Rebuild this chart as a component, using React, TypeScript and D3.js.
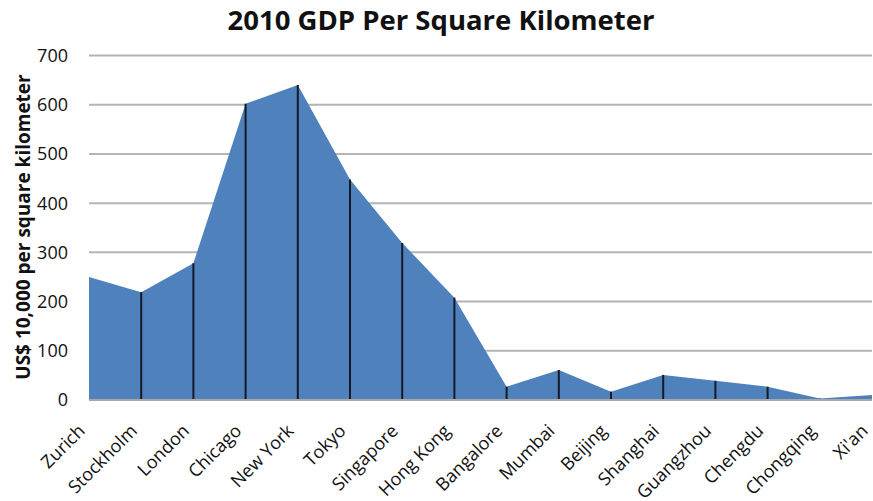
import React from "react";
import * as d3 from "d3";

const cities = [
  "Zurich", "Stockholm", "London", "Chicago", "New York", "Tokyo", "Singapore", "Hong Kong",
  "Bangalore", "Mumbai", "Beijing", "Shanghai", "Guangzhou", "Chengdu", "Chongqing", "Xi'an",
];
const gdpPerKm2 = [250, 219, 278, 602, 640, 448, 319, 208, 27, 61, 17, 51, 39, 27, 3, 10];
const yTicks = [0, 100, 200, 300, 400, 500, 600, 700];

const W = 873;
const H = 501;
const M = { left: 89, right: 872, top: 55.5, bottom: 400 };
const FONT = "'Open Sans', 'Liberation Sans', sans-serif";

export default function App() {
  const x = d3.scalePoint<string>().domain(cities).range([M.left, M.right]);
  const y = d3.scaleLinear().domain([0, 700]).range([M.bottom, M.top]);

  const rows = cities.map((c, i) => ({ c, v: gdpPerKm2[i] }));
  const area = d3
    .area<{ c: string; v: number }>()
    .x((d) => x(d.c)!)
    .y0(y(0))
    .y1((d) => y(d.v));

  return (
    <svg width={W} height={H} style={{ position: "absolute", left: 0, top: 0, background: "#fff" }}>
      <text x={441} y={30} textAnchor="middle" fontFamily={FONT} fontWeight="bold" fontSize={27.5} fill="#111">
        2010 GDP Per Square Kilometer
      </text>

      {yTicks.map((t) => (
        <g key={t}>
          {t > 0 && (
            <line x1={M.left} x2={M.right} y1={y(t)} y2={y(t)} stroke="#b4b4b4" strokeWidth={2} />
          )}
          <text x={68} y={y(t)} dy="0.36em" textAnchor="end" fontFamily={FONT} fontSize={18} fill="#111">
            {t}
          </text>
        </g>
      ))}

      <path d={area(rows)!} fill="#4f81bd" />

      {rows.slice(1, -1).map((d) => (
        <line
          key={d.c}
          x1={x(d.c)}
          x2={x(d.c)}
          y1={y(d.v)}
          y2={y(0)}
          stroke="#141a26"
          strokeWidth={2}
        />
      ))}

      <line x1={M.left} x2={M.right} y1={y(0)} y2={y(0)} stroke="#a8a8a8" strokeWidth={2} />

      {cities.map((c) => (
        <text
          key={c}
          transform={`translate(${x(c)! - 3},${432}) rotate(-45)`}
          textAnchor="end"
          fontFamily={FONT}
          fontSize={18}
          fill="#111"
        >
          {c}
        </text>
      ))}

      <text
        transform={`translate(30,227) rotate(-90)`}
        textAnchor="middle"
        fontFamily={FONT}
        fontWeight="bold"
        fontSize={19}
        fill="#111"
      >
        US$ 10,000 per square kilometer
      </text>
    </svg>
  );
}
